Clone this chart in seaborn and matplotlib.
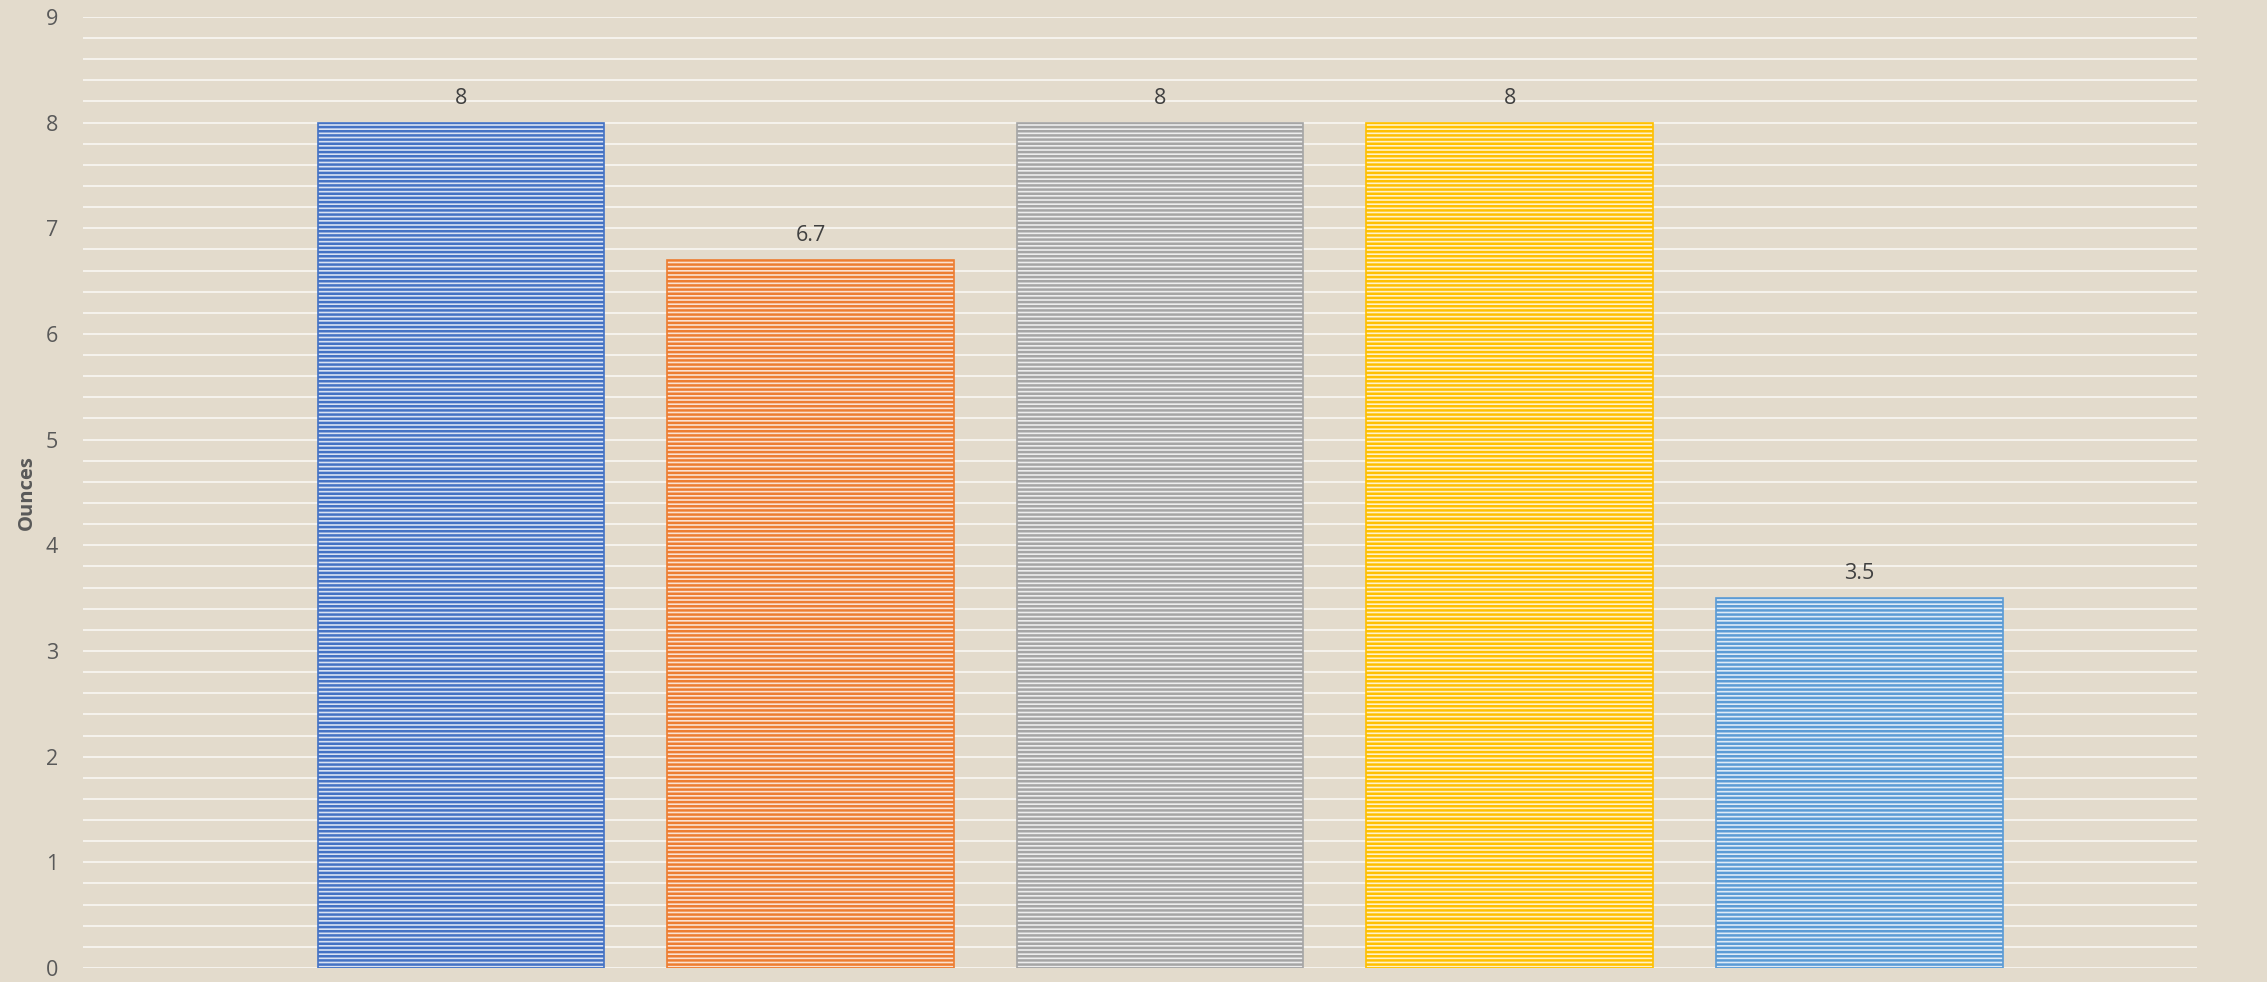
import matplotlib
matplotlib.use("Agg")
import matplotlib.pyplot as plt
import seaborn as sns
import pandas as pd
import numpy as np
from matplotlib.ticker import MultipleLocator

# Data
series = ["Series 1", "Series 2", "Series 3", "Series 4", "Series 5"]
values = [8, 6.7, 8, 8, 3.5]
labels = ["8", "6.7", "8", "8", "3.5"]
colors = ["#4472C4", "#ED7D31", "#A5A5A5", "#FFC000", "#5B9BD5"]
tints = ["#D9E2F3", "#FBE1D0", "#EDEDED", "#FFF2C8", "#DEEBF7"]
y_ticks = [0, 1, 2, 3, 4, 5, 6, 7, 8, 9]

df = pd.DataFrame({"cat": [""] * len(series), "series": series, "value": values})

sns.set_theme(style="white")
plt.rcParams["font.family"] = ["Open Sans", "DejaVu Sans"]
plt.rcParams["hatch.linewidth"] = 1.8

bg = "#E3DBCC"
fig = plt.figure(figsize=(22.67, 9.82), dpi=100, facecolor=bg)
ax = fig.add_axes([0.0366, 0.01426, 0.9325, 0.9685])
ax.set_facecolor(bg)

sns.barplot(data=df, x="cat", y="value", hue="series", palette=colors,
            width=0.8, gap=0.18, legend=False, ax=ax, zorder=3)

for patch, c, t in zip(ax.patches, colors, tints):
    patch.set_facecolor(t)
    patch.set_edgecolor(c)
    patch.set_linewidth(1.2)
    patch.set_hatch("----")

for container, lab in zip(ax.containers, labels):
    ax.bar_label(container, labels=[lab], padding=10, fontsize=15.5, color="#404040")

ax.set_xlim(-0.4931, 0.4746)
ax.set_ylim(0, 9)
ax.set_yticks(y_ticks)
ax.yaxis.set_minor_locator(MultipleLocator(0.2))
ax.grid(axis="y", which="both", color="#F7F5F0", linewidth=1.3, zorder=0)
ax.set_axisbelow(True)
ax.tick_params(axis="y", which="both", length=0, pad=18, labelsize=15.5, labelcolor="#595959")
ax.tick_params(axis="x", length=0, labelbottom=False)
ax.set_xlabel("")
ax.set_ylabel("Ounces", fontsize=14.5, fontweight="bold", color="#595959", labelpad=6)
for s in ax.spines.values():
    s.set_visible(False)

fig.savefig("out.png", dpi=100, facecolor=bg)
